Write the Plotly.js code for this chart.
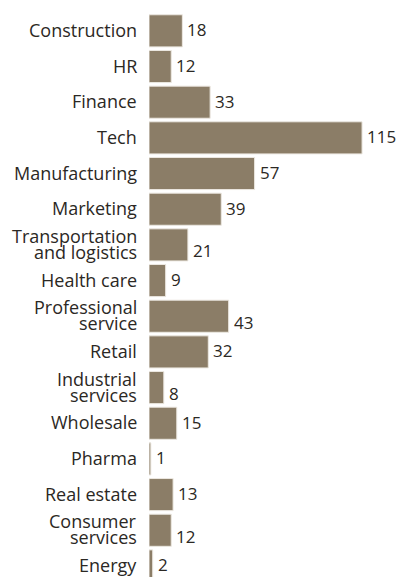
<!DOCTYPE html>
<html>
<head>
<meta charset="utf-8">
<script src="https://cdn.plot.ly/plotly-3.0.1.min.js"></script>
<style>html,body{margin:0;padding:0;background:#fff;}#chart{width:398px;height:577px;}</style>
</head>
<body>
<div id="chart"></div>
<script>
const categories = ["Construction","HR","Finance","Tech","Manufacturing","Marketing","Transportation<br>and logistics","Health care","Professional<br>service","Retail","Industrial<br>services","Wholesale","Pharma","Real estate","Consumer<br>services","Energy"];
const values = [18,12,33,115,57,39,21,9,43,32,8,15,1,13,12,2];

const barColor = "#8b7d67";
const textColor = "#2b2824";
const fontFam = "'Open Sans', sans-serif";

const annotations = [];
categories.forEach((c, i) => {
  const lines = c.split("<br>");
  const two = lines.length > 1;
  // value label
  annotations.push({
    x: values[i], y: i, xref: "x", yref: "y",
    text: String(values[i]), showarrow: false, borderpad: 0,
    xanchor: "left", xshift: 4, yshift: two ? -6 : 1,
    font: {family: fontFam, size: 17, color: textColor}
  });
  // category label lines (tight line spacing)
  lines.forEach((ln, k) => {
    annotations.push({
      x: 0, y: i, xref: "x", yref: "y",
      text: ln, showarrow: false, borderpad: 0,
      xanchor: "right", xshift: -11,
      yshift: two ? (k === 0 ? 9 : -7) : 1,
      font: {family: fontFam, size: 18, color: textColor}
    });
  });
});

const trace = {
  type: "bar", orientation: "h",
  x: values, y: categories.map((c, i) => i),
  marker: {color: barColor, line: {color: "#ece8e1", width: 1}},
  hoverinfo: "none"
};

const layout = {
  width: 398, height: 577,
  margin: {l: 149, r: 0, t: 13, b: 0},
  paper_bgcolor: "#fff", plot_bgcolor: "#fff",
  bargap: 0.1,
  showlegend: false,
  xaxis: {range: [0, 134.4], showgrid: false, zeroline: false, showticklabels: false, showline: false, ticks: ""},
  yaxis: {range: [15.31, -0.5], showgrid: false, zeroline: false, showline: false,
          ticks: "", showticklabels: false, tickvals: categories.map((c, i) => i), ticktext: categories},
  annotations: annotations
};

Plotly.newPlot("chart", [trace], layout, {staticPlot: true, displayModeBar: false});
</script>
</body>
</html>
